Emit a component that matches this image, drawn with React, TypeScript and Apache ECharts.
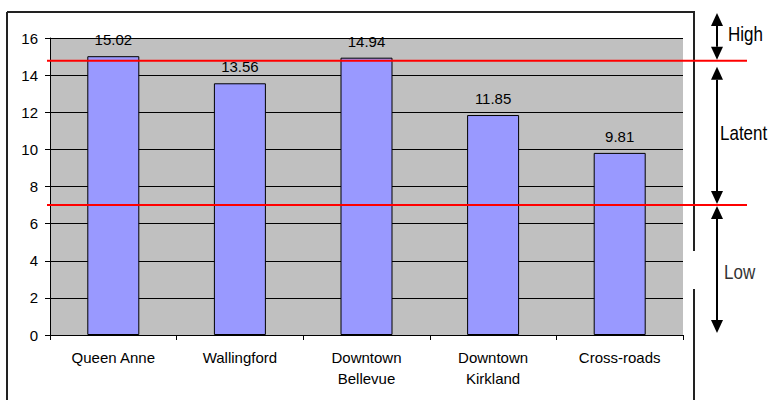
import React, { useEffect, useRef } from "react";
import * as echarts from "echarts";

const categories = ["Queen Anne", "Wallingford", "Downtown\nBellevue", "Downtown\nKirkland", "Cross-roads"];
const values = [15.02, 13.56, 14.94, 11.85, 9.81];
const thresholds = [14.78, 7.0];
const zoneLabels = ["High", "Latent", "Low"];
const yMin = 0;
const yMax = 16;
const yInterval = 2;

const FONT = '"Liberation Sans", Arial, Helvetica, sans-serif';

export default function App() {
  const ref = useRef<HTMLDivElement>(null);
  useEffect(() => {
    if (!ref.current) return;
    const chart = echarts.init(ref.current, null, { renderer: "svg" });
    chart.setOption({
      animation: false,
      textStyle: { fontFamily: FONT },
      grid: {
        left: 50,
        top: 38,
        right: 86,
        bottom: 65,
        show: true,
        backgroundColor: "#C0C0C0",
        borderWidth: 0,
      },
      xAxis: {
        type: "category",
        data: categories,
        boundaryGap: true,
        axisLine: { show: true, lineStyle: { color: "#000", width: 1 } },
        axisTick: { show: true, alignWithLabel: false, length: 5, lineStyle: { color: "#000" } },
        axisLabel: { color: "#000", fontSize: 15, lineHeight: 21, margin: 12, fontFamily: FONT, interval: 0 },
        splitLine: { show: false },
      },
      yAxis: {
        type: "value",
        min: yMin,
        max: yMax,
        interval: yInterval,
        axisLine: { show: true, lineStyle: { color: "#000", width: 1 } },
        axisTick: { show: true, length: 5, lineStyle: { color: "#000" } },
        axisLabel: { color: "#000", fontSize: 15, margin: 12, fontFamily: FONT },
        splitLine: { show: true, lineStyle: { color: "#000", width: 1 } },
      },
      series: [
        {
          type: "bar",
          data: values,
          barWidth: 52,
          itemStyle: { color: "#9999FF", borderColor: "#000", borderWidth: 1 },
          label: {
            show: true,
            position: "top",
            distance: 9,
            color: "#000",
            fontSize: 15,
            fontFamily: FONT,
            formatter: (p: any) => Number(p.value).toFixed(2),
          },
        },
      ],
    });

    const yHi = chart.convertToPixel({ yAxisIndex: 0 }, thresholds[0]) as number;
    const yLo = chart.convertToPixel({ yAxisIndex: 0 }, thresholds[1]) as number;
    const yZero = chart.convertToPixel({ yAxisIndex: 0 }, yMin) as number;
    const ax = 717;
    const hw = 6;
    const hh = 13;
    const boxTop = 12;
    const boxL = 7;
    const boxR = 694;

    const downHead = (ty: number) => ({
      type: "polygon",
      z: 100,
      shape: { points: [[ax - hw, ty - hh], [ax + hw, ty - hh], [ax, ty]] },
      style: { fill: "#000" },
    });
    const upHead = (ty: number) => ({
      type: "polygon",
      z: 100,
      shape: { points: [[ax - hw, ty + hh], [ax + hw, ty + hh], [ax, ty]] },
      style: { fill: "#000" },
    });
    const shaft = (y1: number, y2: number) => ({
      type: "line",
      z: 100,
      shape: { x1: ax, y1, x2: ax, y2 },
      style: { stroke: "#000", lineWidth: 2 },
    });
    const label = (text: string, x: number, y: number, color: string) => ({
      type: "text",
      z: 100,
      x,
      y,
      scaleY: 1.2,
      style: {
        text,
        x: 0,
        y: 0,
        fill: color,
        font: `17px ${FONT}`,
        verticalAlign: "middle",
        align: "left",
      },
    });
    const box = (x1: number, y1: number, x2: number, y2: number) => ({
      type: "line",
      z: 90,
      shape: { x1, y1, x2, y2 },
      style: { stroke: "#222", lineWidth: 2 },
    });

    const highTop = boxTop + 1;
    const highBot = yHi - 1;
    const latTop = yHi + 6;
    const latBot = yLo - 1;
    const lowTop = yLo + 1;
    const lowBot = yZero - 2;

    chart.setOption({
      graphic: [
        box(boxL, boxTop, boxR + 1, boxTop),
        box(boxL, boxTop, boxL, 400),
        box(boxR, boxTop, boxR, 251),
        box(boxR, 289, boxR, 400),
        {
          type: "line",
          z: 100,
          shape: { x1: 47, y1: yHi, x2: 747, y2: yHi },
          style: { stroke: "#FF0000", lineWidth: 2 },
        },
        {
          type: "line",
          z: 100,
          shape: { x1: 47, y1: yLo, x2: 747, y2: yLo },
          style: { stroke: "#FF0000", lineWidth: 2 },
        },
        shaft(highTop + hh, highBot - hh),
        upHead(highTop),
        downHead(highBot),
        shaft(latTop + hh, latBot - hh),
        upHead(latTop),
        downHead(latBot),
        shaft(lowTop + hh, lowBot - hh),
        upHead(lowTop),
        downHead(lowBot),
        label(zoneLabels[0], 728, 34, "#000"),
        label(zoneLabels[1], 720, 133, "#000"),
        label(zoneLabels[2], 724, 272, "#333"),
      ],
    });

    return () => chart.dispose();
  }, []);
  return (
    <div
      ref={ref}
      style={{ position: "fixed", left: 0, top: 0, width: 769, height: 400, background: "#fff" }}
    />
  );
}
